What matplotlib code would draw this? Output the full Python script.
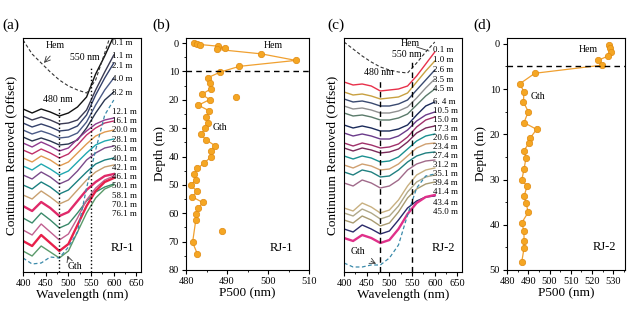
import numpy as np
import matplotlib
matplotlib.use("Agg")
import matplotlib.pyplot as plt
from matplotlib.ticker import MultipleLocator

plt.rcParams['font.family'] = ['Liberation Serif', 'DejaVu Serif']
plt.rcParams['xtick.direction'] = 'out'
plt.rcParams['ytick.direction'] = 'out'

# ---------------- data ----------------
wl = [400, 420, 440, 460, 480, 500, 520, 540, 560, 580, 600]

# RJ-1 continuum removed spectra (offset, arbitrary units)
rj1_labels = ["0.1 m", "1.1 m", "2.1 m", "4.0 m", "8.2 m", "12.1 m", "16.1 m", "20.0 m",
              "28.1 m", "36.1 m", "40.1 m", "42.1 m", "46.1 m", "50.1 m", "58.1 m",
              "70.1 m", "76.1 m"]
rj1_spectra = [
    [163, 159, 163, 160, 156, 159, 165, 175, 198, 216, 236],
    [156, 152, 155, 152, 148, 149, 152, 162, 182, 200, 217],
    [149, 145, 148, 145, 141, 142, 146, 157, 177, 194, 209],
    [142, 138, 141, 138, 134, 135, 139, 150, 167, 182, 194],
    [135, 131, 134, 131, 127, 128, 132, 144, 159, 172, 180],
    [129, 125, 130, 126, 121, 124, 133, 141, 148, 152, 154],
    [122, 118, 123, 119, 114, 118, 127, 137, 144, 149, 151],
    [114, 110, 116, 112, 106, 110, 119, 128, 136, 140, 142],
    [106, 102, 108, 103, 97, 101, 110, 119, 127, 131, 133],
    [97, 93, 100, 95, 88, 92, 101, 112, 119, 124, 126],
    [87, 83, 90, 85, 78, 82, 91, 100, 108, 112, 114],
    [77, 73, 81, 75, 68, 72, 82, 92, 100, 105, 107],
    [66, 61, 70, 64, 56, 60, 71, 82, 90, 96, 98],
    [54, 49, 59, 52, 44, 48, 59, 71, 80, 85, 88],
    [42, 37, 48, 40, 32, 38, 54, 72, 84, 92, 96],
    [31, 26, 37, 29, 21, 28, 47, 66, 81, 90, 94],
    [21, 16, 26, 20, 14, 21, 40, 59, 74, 83, 87],
]
rj1_label_y = [229, 216, 206, 193, 179, 160, 151, 142, 132, 123, 113, 104, 95, 86, 76, 67, 58]
rj1_colors = ['#111111', '#3a3a52', '#33406a', '#4a5a86', '#2a3550', '#8e3a8e', '#c0306a',
              '#e09a50', '#20a8b0', '#7a4a8a', '#1a8080', '#c8a070', '#e02a6a', '#3a8a6a',
              '#c06090', '#e8204a', '#5a9a6a']
rj1_hem = [232, 218, 209, 200, 192, 186, 182, 179, 192, 219, 247]
rj1_gth = [14, 8, 9, 15, 14, 25, 40, 84, 122, 157, 172]

# RJ-2 continuum removed spectra
rj2_labels = ["0.1 m", "1.0 m", "2.6 m", "3.5 m", "4.5 m", "6. 4 m", "10.5 m", "15.0 m",
              "17.3 m", "20.6 m", "23.4 m", "27.4 m", "31.2 m", "35.1 m", "39.4 m",
              "41.4 m", "43.4 m", "45.0 m"]
rj2_spectra = [
    [190, 187, 188, 186, 181, 182, 183, 186, 196, 208, 220],
    [180, 177, 178, 176, 173, 174, 175, 179, 190, 201, 211],
    [173, 170, 171, 169, 166, 166, 168, 172, 182, 192, 202],
    [166, 163, 164, 162, 159, 159, 161, 165, 174, 184, 193],
    [159, 156, 157, 155, 152, 152, 154, 158, 167, 176, 183],
    [147, 144, 146, 144, 141, 141, 143, 147, 157, 166, 170],
    [139, 136, 138, 136, 133, 133, 136, 142, 151, 157, 160],
    [129, 126, 129, 127, 124, 125, 128, 135, 145, 152, 155],
    [124, 121, 124, 122, 119, 120, 123, 130, 139, 144, 146],
    [116, 113, 116, 114, 110, 111, 115, 123, 131, 136, 138],
    [107, 104, 108, 106, 102, 103, 108, 116, 124, 128, 129],
    [100, 97, 102, 100, 95, 96, 102, 110, 116, 119, 120],
    [89, 86, 92, 89, 84, 86, 92, 102, 108, 111, 112],
    [64, 61, 69, 65, 59, 62, 72, 86, 97, 102, 104],
    [59, 56, 63, 59, 53, 56, 66, 80, 90, 95, 97],
    [52, 49, 56, 52, 46, 49, 60, 74, 83, 88, 90],
    [43, 40, 47, 43, 38, 41, 52, 64, 71, 75, 76],
    [34, 31, 37, 34, 29, 32, 43, 58, 69, 75, 77],
]
rj2_label_y = [222, 212, 202, 192, 183, 170, 161, 152, 143, 134, 125, 116, 107, 98, 89, 80, 69, 60]
rj2_colors = ['#e8304a', '#c8a040', '#3a4a70', '#909090', '#5a7a6a', '#1a2a5a', '#6a3a8a',
              '#a0306a', '#7a2a5a', '#1a9090', '#d0a070', '#208080', '#a06a8a', '#c8b080',
              '#b0a888', '#a89a70', '#2a2a6a', '#e0308a']
rj2_hem = [230, 223, 216, 210, 205, 202, 200, 199, 209, 220, 230]
rj2_gth = [9, 5, 5, 7, 7, 14, 27, 57, 84, 96, 98]

# P500 vs depth
rj1_p500 = [482.0, 482.8, 483.4, 487.9, 489.5, 487.5, 498.4, 506.8, 493.0, 488.4, 485.3,
            485.8, 486.1, 483.8, 485.8, 483.0, 485.7, 484.9, 485.4, 484.7, 483.6, 484.8,
            487.1, 486.1, 486.1, 484.5, 482.8, 481.9, 482.4, 481.1, 482.8, 481.5, 484.1,
            483.0, 482.4, 482.4, 481.6, 482.8]
rj1_depth = [0.0, 0.2, 0.5, 1.1, 1.6, 2.2, 3.8, 6.1, 8.2, 10.2, 12.2, 14.1, 16.1, 18.1,
             19.9, 21.9, 23.9, 26.0, 28.0, 30.1, 32.1, 34.0, 36.2, 38.1, 40.1, 42.2, 44.2,
             46.2, 48.1, 50.2, 52.2, 54.2, 56.2, 58.2, 60.1, 62.2, 70.3, 74.4]
rj1_out_p500 = [492.2, 488.7]
rj1_out_depth = [19.0, 66.2]

rj2_p500 = [528.0, 528.3, 529.1, 527.5, 523.0, 524.8, 493.1, 486.1, 488.0, 487.7, 490.0,
            488.0, 493.9, 490.8, 490.2, 488.0, 488.9, 488.0, 486.9, 489.5, 488.0, 488.9,
            490.0, 486.9, 488.0, 488.0, 488.0, 486.9]
rj2_depth = [0.15, 0.9, 1.8, 2.7, 3.6, 4.7, 6.5, 8.8, 10.7, 12.8, 15.0, 17.4, 18.9, 20.9,
             22.0, 23.6, 25.3, 27.7, 30.2, 31.4, 33.7, 35.2, 37.2, 39.6, 41.4, 43.6, 45.2,
             48.3]

# ---------------- figure ----------------
fig = plt.figure(figsize=(6.31, 3.22), dpi=100)
ax_a = fig.add_axes([0.0365, 0.1553, 0.1870, 0.7267])
ax_b = fig.add_axes([0.2948, 0.1615, 0.1949, 0.7205])
ax_c = fig.add_axes([0.5452, 0.1553, 0.1870, 0.7267])
ax_d = fig.add_axes([0.8035, 0.1615, 0.1870, 0.7205])

tick_fs = 7.5
lab_fs = 9.5
small_fs = 7
side_fs = 6.4


def spectra_panel(ax, spectra, colors, labels, label_y, hem, gth, thick, vstyle,
                  v480_top, v550_top):
    for i, (s, c) in enumerate(zip(spectra, colors)):
        ax.plot(wl, s, color=c, lw=1.7 if i in thick else 1.0)
    ax.plot(wl, hem, color='#333333', ls=(0, (3, 2)), lw=0.8)
    ax.plot(wl, gth, color='#3a8aaa', ls=(0, (3, 2)), lw=0.9)
    ax.plot([480, 480], [0, v480_top], color='black', ls=vstyle, lw=1.0)
    ax.plot([550, 550], [0, v550_top], color='black', ls=vstyle, lw=1.0)
    for lab, y in zip(labels, label_y):
        ax.text(597, y, lab, fontsize=side_fs, va='center', ha='left')
    ax.set_xlim(400, 660)
    ax.set_ylim(0, 234)
    ax.set_yticks([])
    ax.xaxis.set_major_locator(MultipleLocator(50))
    ax.xaxis.set_minor_locator(MultipleLocator(25))
    ax.tick_params(axis='x', labelsize=tick_fs, length=3, pad=2)
    ax.tick_params(axis='x', which='minor', length=1.5)
    ax.set_xlabel('Wavelength (nm)', fontsize=lab_fs, labelpad=1)
    ax.set_ylabel('Continuum Removed (Offset)', fontsize=lab_fs, labelpad=4)


spectra_panel(ax_a, rj1_spectra, rj1_colors, rj1_labels, rj1_label_y, rj1_hem, rj1_gth,
              [12, 15], ':', 164, 204)
ax_a.text(470, 226, 'Hem', fontsize=small_fs, ha='center', va='center')
ax_a.annotate('', xy=(442, 207), xytext=(464, 218),
              arrowprops=dict(arrowstyle='->', lw=0.6, color='#333333'))
ax_a.text(536, 214, '550 nm', fontsize=small_fs, ha='center', va='center')
ax_a.text(477, 172, '480 nm', fontsize=small_fs, ha='center', va='center')
ax_a.text(514, 5, 'Gth', fontsize=small_fs, ha='center', va='center')
ax_a.annotate('', xy=(496, 19), xytext=(503, 10),
              arrowprops=dict(arrowstyle='->', lw=0.6, color='#333333'))
ax_a.text(619, 24, 'RJ-1', fontsize=9, ha='center', va='center')

spectra_panel(ax_c, rj2_spectra, rj2_colors, rj2_labels, rj2_label_y, rj2_hem, rj2_gth,
              [17], (0, (4, 3)), 192, 210)
ax_c.text(547, 228, 'Hem', fontsize=small_fs, ha='center', va='center')
ax_c.plot([560, 587], [225, 221], color='#333333', lw=0.6)
ax_c.text(538, 217, '550 nm', fontsize=small_fs, ha='center', va='center')
ax_c.text(476, 199, '480 nm', fontsize=small_fs, ha='center', va='center')
ax_c.text(431, 20, 'Gth', fontsize=small_fs, ha='center', va='center')
ax_c.annotate('', xy=(476, 7), xytext=(454, 12),
              arrowprops=dict(arrowstyle='->', lw=0.6, color='#333333'))
ax_c.text(619, 24, 'RJ-2', fontsize=9, ha='center', va='center')

ball = dict(marker='o', ms=4.6, mfc='#f5a623', mec='#e08a10', mew=0.5)


def depth_panel(ax, p500, depth, xlim, ylim, ymaj, boundary):
    ax.plot(p500, depth, color='#f0a030', lw=0.9, **ball)
    ax.axhline(boundary, color='black', ls=(0, (4, 3)), lw=1.0)
    ax.set_xlim(*xlim)
    ax.set_ylim(*ylim)
    ax.xaxis.set_major_locator(MultipleLocator(10))
    ax.xaxis.set_minor_locator(MultipleLocator(5))
    ax.yaxis.set_major_locator(MultipleLocator(ymaj))
    ax.yaxis.set_minor_locator(MultipleLocator(5))
    ax.tick_params(labelsize=tick_fs, length=3, pad=2)
    ax.tick_params(which='minor', length=1.5)
    ax.set_xlabel('P500 (nm)', fontsize=lab_fs, labelpad=1)
    ax.set_ylabel('Depth (m)', fontsize=lab_fs, labelpad=2)


depth_panel(ax_b, rj1_p500, rj1_depth, (480, 510), (80, -1.8), 10, 10)
ax_b.plot(rj1_out_p500, rj1_out_depth, ls='none', **ball)
ax_b.text(501.2, 0.8, 'Hem', fontsize=small_fs, ha='center', va='center')
ax_b.text(488.3, 29.8, 'Gth', fontsize=small_fs, ha='center', va='center')
ax_b.text(503.3, 72.4, 'RJ-1', fontsize=9, ha='center', va='center')

depth_panel(ax_d, rj2_p500, rj2_depth, (480, 535.5), (50, -1.3), 10, 5)
ax_d.text(518.3, 1.2, 'Hem', fontsize=small_fs, ha='center', va='center')
ax_d.text(494.7, 11.7, 'Gth', fontsize=small_fs, ha='center', va='center')
ax_d.text(526, 45, 'RJ-2', fontsize=9, ha='center', va='center')

for lab, x in [('(a)', 2), ('(b)', 152), ('(c)', 327), ('(d)', 473)]:
    fig.text(x / 631, 1 - 25 / 322, lab, fontsize=11, ha='left', va='center')

fig.savefig('out.png', dpi=100)
